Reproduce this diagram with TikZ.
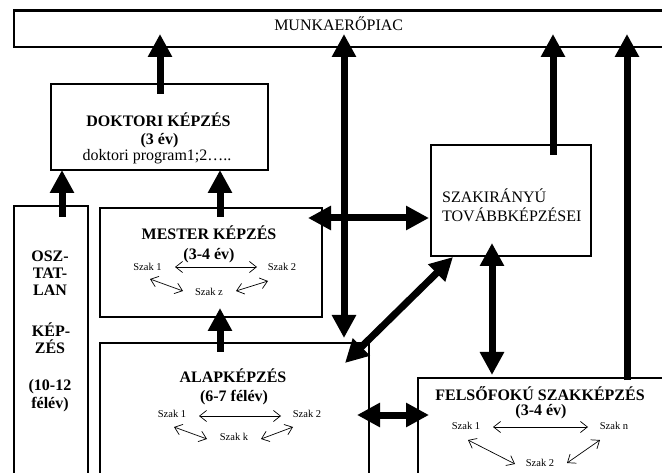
\documentclass[tikz,border=0pt]{standalone}
\usepackage{fontspec}
\setmainfont{Liberation Serif}
\usetikzlibrary{arrows.meta}
\begin{document}
\begin{tikzpicture}[x=1pt,y=-1pt,
  box/.style={draw, line width=2.2pt, fill=white, rectangle, anchor=north west, inner sep=0pt},
  bigtwo/.style={line width=7pt, arrows={Triangle[length=23pt,width=23pt]-Triangle[length=23pt,width=23pt]}},
  bigone/.style={line width=7pt, arrows={-Triangle[length=23pt,width=23pt]}},
  smallarr/.style={line width=0.7pt, arrows={Straight Barb[length=7pt,width=11pt]-Straight Barb[length=7pt,width=11pt]}},
  treg/.style={font=\fontsize{16}{18}\selectfont, inner sep=0pt, anchor=base},
  tbold/.style={font=\fontsize{16}{18}\selectfont\bfseries, inner sep=0pt, anchor=base},
  tsmall/.style={font=\fontsize{10.5}{12}\selectfont, inner sep=0pt, anchor=base}]
\useasboundingbox (0,0) rectangle (662,473);
\clip (0,0) rectangle (662,473);
% boxes
\node[box, minimum width=648.5pt, minimum height=36.5pt] (mp) at (13,9.5) {};
\node[box, minimum width=217pt, minimum height=86pt] (dok) at (50,83) {};
\node[box, minimum width=74pt, minimum height=285pt] (osz) at (13,205) {};
\node[box, minimum width=222pt, minimum height=109pt] (mes) at (99,207) {};
\node[box, minimum width=160pt, minimum height=111pt] (szi) at (430,144) {};
\node[box, minimum width=269pt, minimum height=148pt] (alap) at (99,342) {};
\node[box, minimum width=263pt, minimum height=113pt] (fel) at (417,377) {};
% texts
\node[treg] (tmp) at (338.7,31) {MUNKAERŐPIAC};
\node[tbold] (tdok1) at (158.5,127) {DOKTORI KÉPZÉS};
\node[tbold] (tdok2) at (159.5,145) {(3 év)};
\node[treg] (tdok3) at (157,161) {doktori program1;2…..};
\node[tbold] (tmes1) at (209,240) {MESTER KÉPZÉS};
\node[tbold] (tmes2) at (209,260) {(3-4 év)};
\node[tsmall] (ms1) at (147.5,270.5) {Szak 1};
\node[tsmall] (ms2) at (282,270.5) {Szak 2};
\node[tsmall] (msz) at (209,295.5) {Szak z};
\node[tbold] (talap1) at (233,382) {ALAPKÉPZÉS};
\node[tbold] (talap2) at (234,402) {(6-7 félév)};
\node[tsmall] (as1) at (172,417.5) {Szak 1};
\node[tsmall] (as2) at (307,417.5) {Szak 2};
\node[tsmall] (ask) at (234,440.5) {Szak k};
\node[tbold] (tfel1) at (540,400) {FELSŐFOKÚ SZAKKÉPZÉS};
\node[tbold] (tfel2) at (541,415.5) {(3-4 év)};
\node[tsmall] (fs1) at (466,429.5) {Szak 1};
\node[tsmall] (fsn) at (614,429.5) {Szak n};
\node[tsmall] (fs2) at (540,466.5) {Szak 2};
\node[treg, anchor=base west] (tszi1) at (442,203) {SZAKIRÁNYÚ};
\node[treg, anchor=base west] (tszi2) at (442,222) {TOVÁBBKÉPZÉSEI};
\node[tbold] (to1) at (50,262) {OSZ-};
\node[tbold] (to2) at (50,279) {TAT-};
\node[tbold] (to3) at (50,296) {LAN};
\node[tbold] (to4) at (51,337) {KÉP-};
\node[tbold] (to5) at (50,354) {ZÉS};
\node[tbold] (to6) at (50,391) {(10-12};
\node[tbold] (to7) at (50,408) {félév)};
% connector end points
\coordinate (dokOut) at (160,94);   \coordinate (mpIn1) at (160,34);
\coordinate (oszOut) at (62,217);   \coordinate (dokIn1) at (62,170);
\coordinate (mesOut) at (220,217);  \coordinate (dokIn2) at (220,170);
\coordinate (alapOut) at (220,352); \coordinate (mesIn) at (220,308);
\coordinate (mpIn2) at (344,34);    \coordinate (alapIn1) at (344,338);
\coordinate (mesIn2) at (308,218);  \coordinate (sziIn1) at (429,218);
\coordinate (sziIn2) at (453,257);  \coordinate (alapIn2) at (345,363);
\coordinate (sziOut) at (553,155);  \coordinate (mpIn3) at (553,34);
\coordinate (sziIn3) at (492,243);  \coordinate (felIn1) at (492,375);
\coordinate (felOut) at (627,380);  \coordinate (mpIn4) at (627,34);
\coordinate (alapIn3) at (357,415); \coordinate (felIn2) at (429,415);
% big arrows
\draw[bigone] (dokOut) -- (mpIn1);
\draw[bigone] (oszOut) -- (dokIn1);
\draw[bigone] (mesOut) -- (dokIn2);
\draw[bigone] (alapOut) -- (mesIn);
\draw[bigtwo] (mpIn2) -- (alapIn1);
\draw[bigtwo] (mesIn2) -- (sziIn1);
\draw[bigtwo] (sziIn2) -- (alapIn2);
\draw[bigone] (sziOut) -- (mpIn3);
\draw[bigtwo] (sziIn3) -- (felIn1);
\draw[bigone] (felOut) -- (mpIn4);
\draw[bigtwo] (alapIn3) -- (felIn2);
% small arrows end points
\coordinate (m1) at (175,267); \coordinate (m2) at (257,267);
\coordinate (m3) at (150,279); \coordinate (m4) at (183,291);
\coordinate (m5) at (268,281); \coordinate (m6) at (236,291);
\coordinate (a1) at (199,416); \coordinate (a2) at (281,416);
\coordinate (a3) at (174,427); \coordinate (a4) at (207,439);
\coordinate (a5) at (293,427); \coordinate (a6) at (261,439);
\coordinate (f1) at (493,427); \coordinate (f2) at (588,427);
\coordinate (f3) at (468,440); \coordinate (f4) at (515,464);
\coordinate (f5) at (600,440); \coordinate (f6) at (567,463);
\draw[smallarr] (m1) -- (m2);
\draw[smallarr] (m3) -- (m4);
\draw[smallarr] (m5) -- (m6);
\draw[smallarr] (a1) -- (a2);
\draw[smallarr] (a3) -- (a4);
\draw[smallarr] (a5) -- (a6);
\draw[smallarr] (f1) -- (f2);
\draw[smallarr] (f3) -- (f4);
\draw[smallarr] (f5) -- (f6);
\end{tikzpicture}
\end{document}
